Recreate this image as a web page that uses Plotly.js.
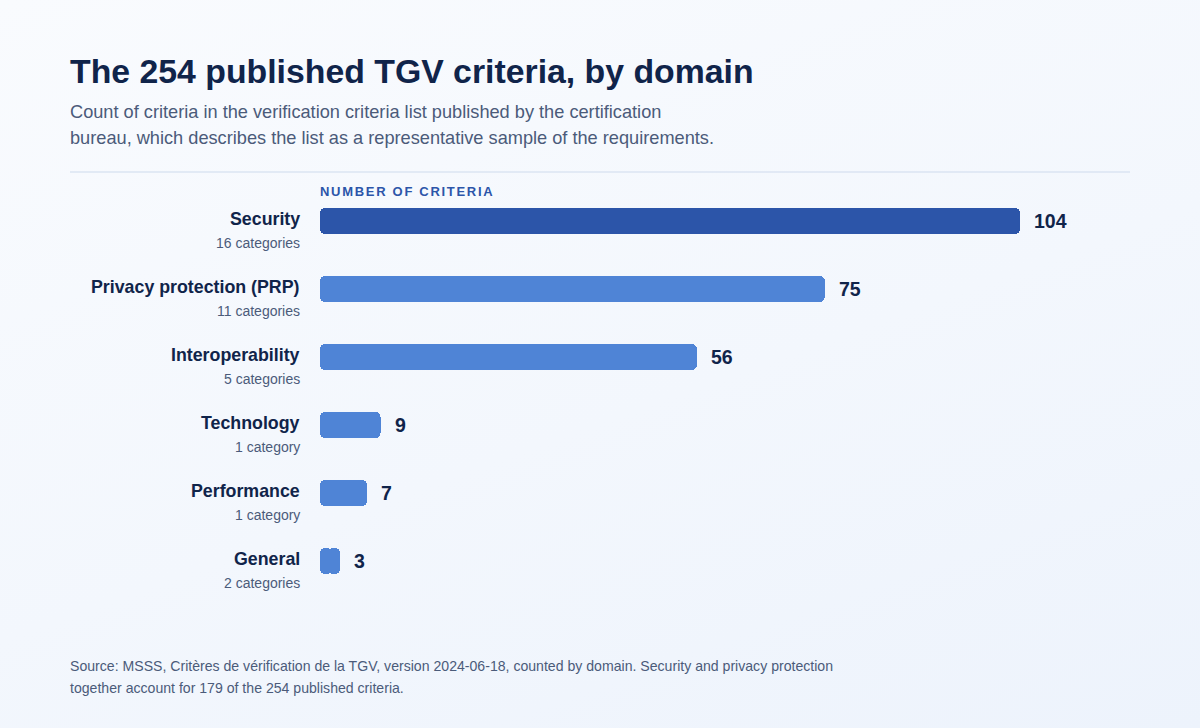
<!DOCTYPE html>
<html>
<head>
<meta charset="utf-8">
<script src="https://cdn.plot.ly/plotly-3.0.1.min.js"></script>
<style>
  html, body { margin: 0; padding: 0; }
  body {
    width: 1200px; height: 728px; overflow: hidden;
    background: linear-gradient(160deg, #f9fbfe 0%, #f3f7fd 55%, #edf3fc 100%);
  }
  #chart { width: 1200px; height: 728px; }
</style>
</head>
<body>
<div id="chart"></div>
<script>
// domains, top to bottom
const domains = ["Security", "Privacy protection (PRP)", "Interoperability", "Technology", "Performance", "General"];
const criteriaCounts = [104, 75, 56, 9, 7, 3];
const categoryNotes = ["16 categories", "11 categories", "5 categories", "1 category", "1 category", "2 categories"];

const W = 1200, H = 728;
const M = { l: 320, r: 70, t: 187, b: 133 };
const plotW = W - M.l - M.r;
const plotH = H - M.t - M.b;

const NAVY = "#10244a";
const MUTED = "#4b5b7a";
const FONT = "Liberation Sans, Arial, sans-serif";

// pixel -> paper coordinates for free text
const px = (x) => (x - M.l) / plotW;
const py = (y) => (H - M.b - y) / plotH;

function textAt(x, y, text, size, color) {
  return {
    xref: "paper", yref: "paper", x: px(x - 2), y: py(y),
    xanchor: "left", yanchor: "middle", showarrow: false,
    text, align: "left", font: { family: FONT, size, color },
  };
}

const barColors = criteriaCounts.map((_, i) => (i === 0 ? "#2c55a9" : "#4f84d6"));

// each bar is drawn as two overlapping halves so both ends get rounded corners
const barRight = {
  type: "bar", orientation: "h", y: domains,
  base: criteriaCounts.map((v) => v * 0.4),
  x: criteriaCounts.map((v) => v * 0.6),
  width: 26 / 68,
  marker: { color: barColors, cornerradius: 5, line: { width: 0 } },
  hoverinfo: "skip",
};
const barLeft = {
  type: "bar", orientation: "h", y: domains,
  base: criteriaCounts.map((v) => v * 0.6),
  x: criteriaCounts.map((v) => -v * 0.6),
  width: 26 / 68,
  marker: { color: barColors, cornerradius: 5, line: { width: 0 } },
  hoverinfo: "skip",
};

const annotations = [
  textAt(70, 71, "<b>The 254 published TGV criteria, by domain</b>", 33.8, NAVY),
  textAt(70, 112, "Count of criteria in the verification criteria list published by the certification", 18.2, MUTED),
  textAt(70, 138, "bureau, which describes the list as a representative sample of the requirements.", 18.2, MUTED),
  textAt(320, 191, "<b><span style='letter-spacing:1.7px'>NUMBER OF CRITERIA</span></b>", 13, "#2c55a9"),
  textAt(70, 666, "Source: MSSS, Critères de vérification de la TGV, version 2024-06-18, counted by domain. Security and privacy protection", 14.1, MUTED),
  textAt(70, 688, "together account for 179 of the 254 published criteria.", 14.1, MUTED),
];

domains.forEach((d, i) => {
  annotations.push({
    xref: "paper", yref: "y", x: 0, y: d, xshift: -18, yshift: 2,
    xanchor: "right", yanchor: "middle", showarrow: false,
    text: "<b>" + d + "</b>", font: { family: FONT, size: 17.8, color: NAVY },
  });
  annotations.push({
    xref: "paper", yref: "y", x: 0, y: d, xshift: -18, yshift: -22,
    xanchor: "right", yanchor: "middle", showarrow: false,
    text: categoryNotes[i], font: { family: FONT, size: 14, color: MUTED },
  });
  annotations.push({
    xref: "x", yref: "y", x: criteriaCounts[i], y: d, xshift: 12, yshift: 0,
    xanchor: "left", yanchor: "middle", showarrow: false,
    text: "<b>" + criteriaCounts[i] + "</b>", font: { family: FONT, size: 19.5, color: NAVY },
  });
});

const layout = {
  width: W, height: H,
  margin: M,
  paper_bgcolor: "rgba(0,0,0,0)",
  plot_bgcolor: "rgba(0,0,0,0)",
  showlegend: false,
  barmode: "overlay",
  bargap: 0,
  xaxis: {
    range: [0, plotW / (700 / 104)],
    showgrid: false, zeroline: false, showticklabels: false, showline: false, fixedrange: true,
  },
  yaxis: {
    autorange: "reversed",
    showgrid: false, zeroline: false, showticklabels: false, showline: false, fixedrange: true,
  },
  shapes: [{
    type: "line", xref: "paper", yref: "paper",
    x0: px(70), x1: px(1130), y0: py(172), y1: py(172),
    line: { color: "#dbe5f2", width: 1.5 },
  }],
  annotations,
};

Plotly.newPlot("chart", [barRight, barLeft], layout, { displayModeBar: false, staticPlot: true });
</script>
</body>
</html>
